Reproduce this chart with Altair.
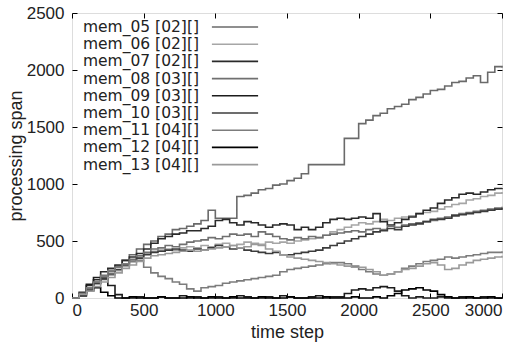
import altair as alt
import pandas as pd

steps = list(range(0, 3001, 50))

names = ["mem_05 [02][]", "mem_06 [02][]", "mem_07 [02][]", "mem_08 [03][]", "mem_09 [03][]",
         "mem_10 [03][]", "mem_11 [04][]", "mem_12 [04][]", "mem_13 [04][]"]

mem_05 = [0, 30, 80, 130, 180, 240, 280, 330, 380, 430, 470, 500, 540, 560, 600, 610, 630, 650, 680, 770,
          700, 700, 700, 890, 900, 920, 950, 960, 990, 1000, 1030, 1050, 1090, 1170, 1170, 1170, 1170, 1170,
          1400, 1400, 1530, 1560, 1600, 1620, 1660, 1680, 1700, 1740, 1760, 1790, 1820, 1830, 1860, 1890,
          1900, 1930, 1950, 1890, 1980, 2030, 2020]
mem_06 = [0, 30, 70, 120, 160, 200, 240, 280, 330, 360, 390, 410, 420, 430, 420, 440, 450, 440, 460, 450,
          470, 480, 460, 470, 490, 480, 470, 490, 480, 490, 480, 500, 510, 520, 530, 550, 580, 600, 620, 640,
          660, 650, 670, 690, 680, 700, 710, 720, 740, 750, 760, 780, 800, 820, 830, 860, 870, 890, 900, 920, 930]
mem_07 = [0, 50, 110, 160, 230, 260, 290, 330, 360, 390, 430, 480, 520, 540, 560, 570, 590, 590, 610, 630,
          680, 690, 660, 640, 670, 660, 640, 620, 640, 650, 640, 600, 620, 600, 620, 660, 690, 700, 690, 700,
          710, 700, 740, 670, 640, 660, 690, 710, 740, 770, 790, 830, 860, 880, 910, 920, 910, 930, 950, 960, 965]
mem_08 = [0, 40, 90, 140, 200, 230, 270, 300, 340, 370, 400, 430, 440, 460, 450, 470, 490, 500, 510, 530,
          520, 540, 560, 550, 560, 540, 580, 560, 540, 520, 510, 530, 520, 540, 530, 550, 560, 570, 580, 590,
          580, 600, 610, 600, 630, 620, 640, 650, 660, 670, 680, 700, 710, 730, 740, 750, 760, 770, 780, 790, 800]
mem_09 = [0, 40, 120, 180, 170, 110, 30, 0, 0, 10, 0, 0, 10, 0, 0, 20, 0, 10, 0, 0,
          10, 0, 0, 20, 10, 0, 0, 10, 0, 20, 10, 0, 0, 10, 20, 0, 10, 10, 40, 70,
          80, 70, 90, 100, 90, 60, 20, 0, 10, 0, 0, 10, 0, 0, 10, 0, 0, 10, 0, 0, 0]
mem_10 = [0, 20, 70, 130, 170, 210, 250, 290, 320, 350, 380, 400, 410, 420, 430, 420, 410, 430, 420, 440,
          460, 450, 430, 440, 420, 410, 400, 390, 400, 380, 380, 390, 400, 410, 420, 440, 460, 480, 500, 520,
          540, 560, 580, 590, 610, 600, 630, 640, 650, 670, 690, 690, 700, 720, 730, 740, 750, 760, 770, 780, 790]
mem_11 = [0, 40, 90, 140, 190, 240, 270, 300, 320, 330, 270, 220, 190, 170, 140, 120, 80, 60, 90, 100,
          110, 130, 140, 150, 160, 170, 180, 190, 200, 230, 250, 260, 270, 280, 290, 300, 310, 310, 300, 280,
          250, 230, 210, 200, 210, 230, 260, 280, 300, 320, 330, 340, 360, 350, 360, 370, 380, 390, 400, 400, 410]
mem_12 = [0, 20, 60, 90, 50, 20, 0, 0, 10, 0, 0, 0, 10, 0, 0, 0, 10, 0, 0, 10,
          0, 0, 10, 0, 0, 0, 10, 0, 0, 0, 10, 0, 0, 0, 0, 10, 0, 0, 0, 10,
          0, 0, 10, 0, 20, 40, 70, 80, 90, 70, 60, 30, 10, 0, 0, 10, 0, 0, 10, 0, 0]
mem_13 = [0, 30, 60, 100, 140, 180, 220, 260, 290, 320, 350, 370, 380, 390, 400, 410, 420, 410, 420, 430,
          440, 450, 460, 440, 450, 470, 460, 430, 410, 380, 360, 350, 340, 330, 320, 310, 300, 290, 280, 270,
          270, 250, 230, 200, 210, 230, 250, 260, 280, 300, 310, 290, 250, 260, 290, 310, 330, 340, 350, 360, 370]

series_values = [mem_05, mem_06, mem_07, mem_08, mem_09, mem_10, mem_11, mem_12, mem_13]
colors = ["#6a6a6a", "#a6a6a6", "#2a2a2a", "#707070", "#1c1c1c", "#3c3c3c", "#7c7c7c", "#000000", "#9a9a9a"]
widths = [1.6, 1.6, 2.0, 1.6, 2.0, 1.8, 1.6, 2.2, 1.6]

rows = []
for name, vals in zip(names, series_values):
    for t, v in zip(steps, vals):
        rows.append({"step": t, "span": v, "series": name})
df = pd.DataFrame(rows)

FONT = "Liberation Sans"
W, H = 430, 285
xvals = [0, 500, 1000, 1500, 2000, 2500, 3000]
yvals = [0, 500, 1000, 1500, 2000, 2500]
xs = alt.Scale(domain=[0, 3000], nice=False, zero=True)
ys = alt.Scale(domain=[0, 2500], nice=False, zero=True)

lines = alt.Chart(df).mark_line(interpolate="step-after").encode(
    x=alt.X("step:Q", scale=xs, axis=alt.Axis(orient="bottom", values=xvals, format="d", ticks=False,
                                              domain=False, grid=False, title="time step", labelFont=FONT,
                                              labelFontSize=17, labelColor="#222", labelPadding=4,
                                              titleFont=FONT, titleFontSize=18, titleFontWeight="normal",
                                              titleColor="#222", titlePadding=5)),
    y=alt.Y("span:Q", scale=ys, axis=alt.Axis(orient="left", values=yvals, format="d", ticks=False,
                                              domain=False, grid=False, title="processing span",
                                              labelFont=FONT, labelFontSize=17, labelColor="#222",
                                              labelPadding=8, titleFont=FONT, titleFontSize=18,
                                              titleFontWeight="normal", titleColor="#222", titlePadding=1)),
    color=alt.Color("series:N", scale=alt.Scale(domain=names, range=colors),
                    legend=alt.Legend(orient="none", legendX=155, legendY=6, title=None,
                                      symbolType="M-3.3,0L3.3,0", symbolSize=196, symbolStrokeWidth=1.8,
                                      symbolOpacity=1, labelFont="DejaVu Sans", labelFontSize=15.5,
                                      labelColor="#222", labelAlign="right", labelOffset={"expr": "-44"},
                                      rowPadding=0.2, labelLimit=300)),
    strokeWidth=alt.StrokeWidth("series:N", scale=alt.Scale(domain=names, range=widths), legend=None),
    detail="series:N",
)

def tick_layer(xorient, yorient):
    return alt.Chart(df).mark_line(strokeOpacity=0).encode(
        x=alt.X("step:Q", scale=xs, axis=alt.Axis(orient=xorient, offset=-H, values=xvals, labels=False,
                                                  domain=False, grid=False, ticks=True, tickSize=5,
                                                  tickColor="#000", title=None)),
        y=alt.Y("span:Q", scale=ys, axis=alt.Axis(orient=yorient, offset=-W, values=yvals, labels=False,
                                                  domain=False, grid=False, ticks=True, tickSize=5,
                                                  tickColor="#000", title=None)),
        detail="series:N",
    )

chart = alt.layer(lines, tick_layer("top", "right"), tick_layer("bottom", "left")).resolve_axis(
    x="independent", y="independent"
).properties(
    width=W, height=H,
    autosize=alt.AutoSizeParams(type="none"),
    padding={"left": 72, "top": 13, "right": 24, "bottom": 46},
).configure_view(stroke="#111", strokeWidth=1.6).configure(background="white")

chart.save("out.html", embed_options={"renderer": "svg", "actions": False})
